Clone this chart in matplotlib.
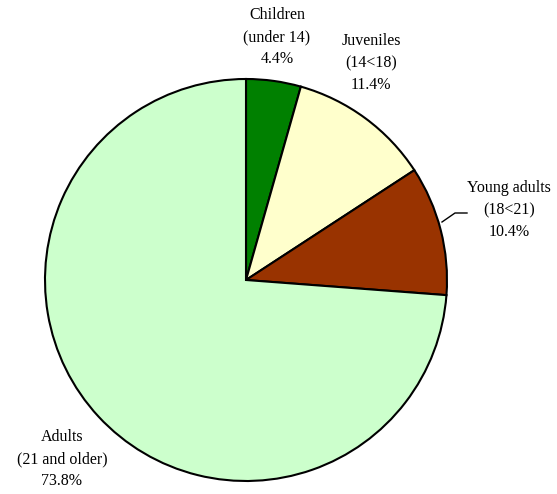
import matplotlib.pyplot as plt

labels = ["Children\n(under 14)", "Juveniles\n(14<18)", "Young adults\n(18<21)", "Adults\n(21 and older)"]
shares = [4.4, 11.4, 10.4, 73.8]
colors = ["#008000", "#FFFFCC", "#993300", "#CCFFCC"]
label_pos = [(277, 37), (371, 63), (509, 210), (62, 459)]

plt.rcParams['font.family'] = ['Liberation Serif', 'DejaVu Serif']

fig = plt.figure(figsize=(5.57, 4.94), dpi=100)
ax = fig.add_axes([0, 0, 1, 1])

cx, cy, r = 246, 494 - 280, 201
ax.pie(shares, colors=colors, startangle=90, counterclock=False,
       center=(cx, cy), radius=r, frame=True,
       wedgeprops=dict(edgecolor='black', linewidth=1.5))
ax.set_xlim(0, 557)
ax.set_ylim(0, 494)
ax.set_aspect('equal')
ax.axis('off')

for lab, val, (px, py) in zip(labels, shares, label_pos):
    ax.text(px, 494 - py, f"{lab}\n{val:.1f}%", ha='center', va='center',
            fontsize=11.5, linespacing=1.5)

# leader line for the young adults slice
ax.plot([442, 455, 467], [494 - 222, 494 - 213, 494 - 213], color='black', lw=1)

fig.savefig("out.png", dpi=100)
